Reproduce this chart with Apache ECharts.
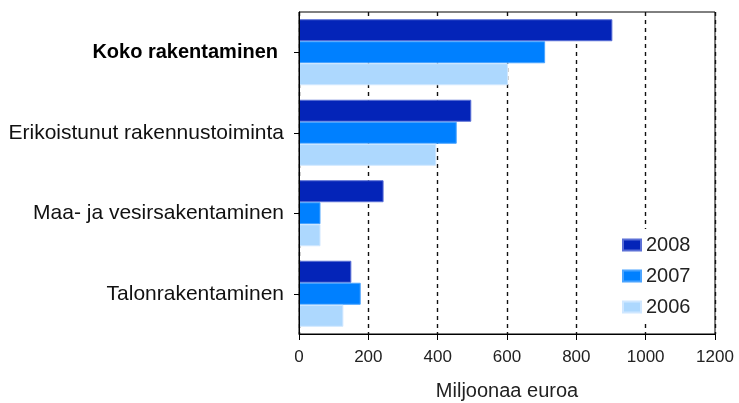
<!DOCTYPE html>
<html>
<head>
<meta charset="utf-8">
<script src="https://cdn.jsdelivr.net/npm/echarts@6/dist/echarts.min.js"></script>
<style>html,body{margin:0;padding:0;background:#fff}#c{width:739px;height:403px}</style>
</head>
<body>
<div id="c"></div>
<script>
const categories = ['Koko rakentaminen', 'Erikoistunut rakennustoiminta', 'Maa- ja vesirsakentaminen', 'Talonrakentaminen'];
const years = ['2008', '2007', '2006'];
const values2008 = [904, 497, 244, 151];
const values2007 = [710, 455, 62, 178];
const values2006 = [603, 396, 62, 128];
const xTicks = [0, 200, 400, 600, 800, 1000, 1200];
const axisName = 'Miljoonaa euroa';

const colors = ['#0424B8', '#0080FF', '#ADD8FE'];
const borders = ['#5a6fd6', '#4aa4ff', '#cfe7ff'];
const seriesValues = [values2008, values2007, values2006];

const chart = echarts.init(document.getElementById('c'));
chart.setOption({
  animation: false,
  backgroundColor: '#fff',
  textStyle: { fontFamily: 'Liberation Sans' },
  grid: { left: 299, right: 24, top: 12, bottom: 69, outerBoundsMode: 'none', containLabel: false, show: true, borderColor: '#000', borderWidth: 1, backgroundColor: 'transparent' },
  legend: {
    orient: 'vertical', left: 614, top: 229,
    backgroundColor: '#fff', padding: [6, 8, 6, 8],
    icon: 'rect', itemWidth: 18, itemHeight: 11, itemGap: 11,
    data: years,
    textStyle: { fontSize: 20, color: '#222', lineHeight: 20, fontFamily: 'Liberation Sans' }
  },
  xAxis: {
    type: 'value', min: xTicks[0], max: xTicks[xTicks.length - 1], interval: 200,
    name: axisName, nameLocation: 'middle', nameGap: 47,
    nameTextStyle: { fontSize: 20, color: '#222' },
    axisLine: { show: true, lineStyle: { color: '#000', width: 1 } },
    axisTick: { show: true, length: 6, lineStyle: { color: '#000' } },
    axisLabel: { fontSize: 17, color: '#222', margin: 15, formatter: function (v) { return String(v); } },
    splitLine: { show: true, lineStyle: { color: '#111', type: [4, 4], width: 1.4 } }
  },
  yAxis: {
    type: 'category', data: categories, inverse: true, z: 3,
    axisLine: { show: true, lineStyle: { color: '#000', width: 1 } },
    axisTick: { show: true, alignWithLabel: true, length: 5, lineStyle: { color: '#000' } },
    axisLabel: {
      fontSize: 21, color: '#111', margin: 15,
      formatter: function (v) { return v === categories[0] ? '{b|' + v + '}' : v; },
      rich: { b: { fontWeight: 'bold', fontSize: 20, color: '#000', fontFamily: 'Liberation Sans', padding: [0, 6, 0, 0] } }
    },
    splitLine: { show: false }
  },
  series: years.map(function (y, i) {
    return {
      name: y, type: 'bar', data: seriesValues[i],
      barGap: '0%', barCategoryGap: '18%',
      itemStyle: { color: colors[i], borderColor: borders[i], borderWidth: 1 }
    };
  })
});
</script>
</body>
</html>
